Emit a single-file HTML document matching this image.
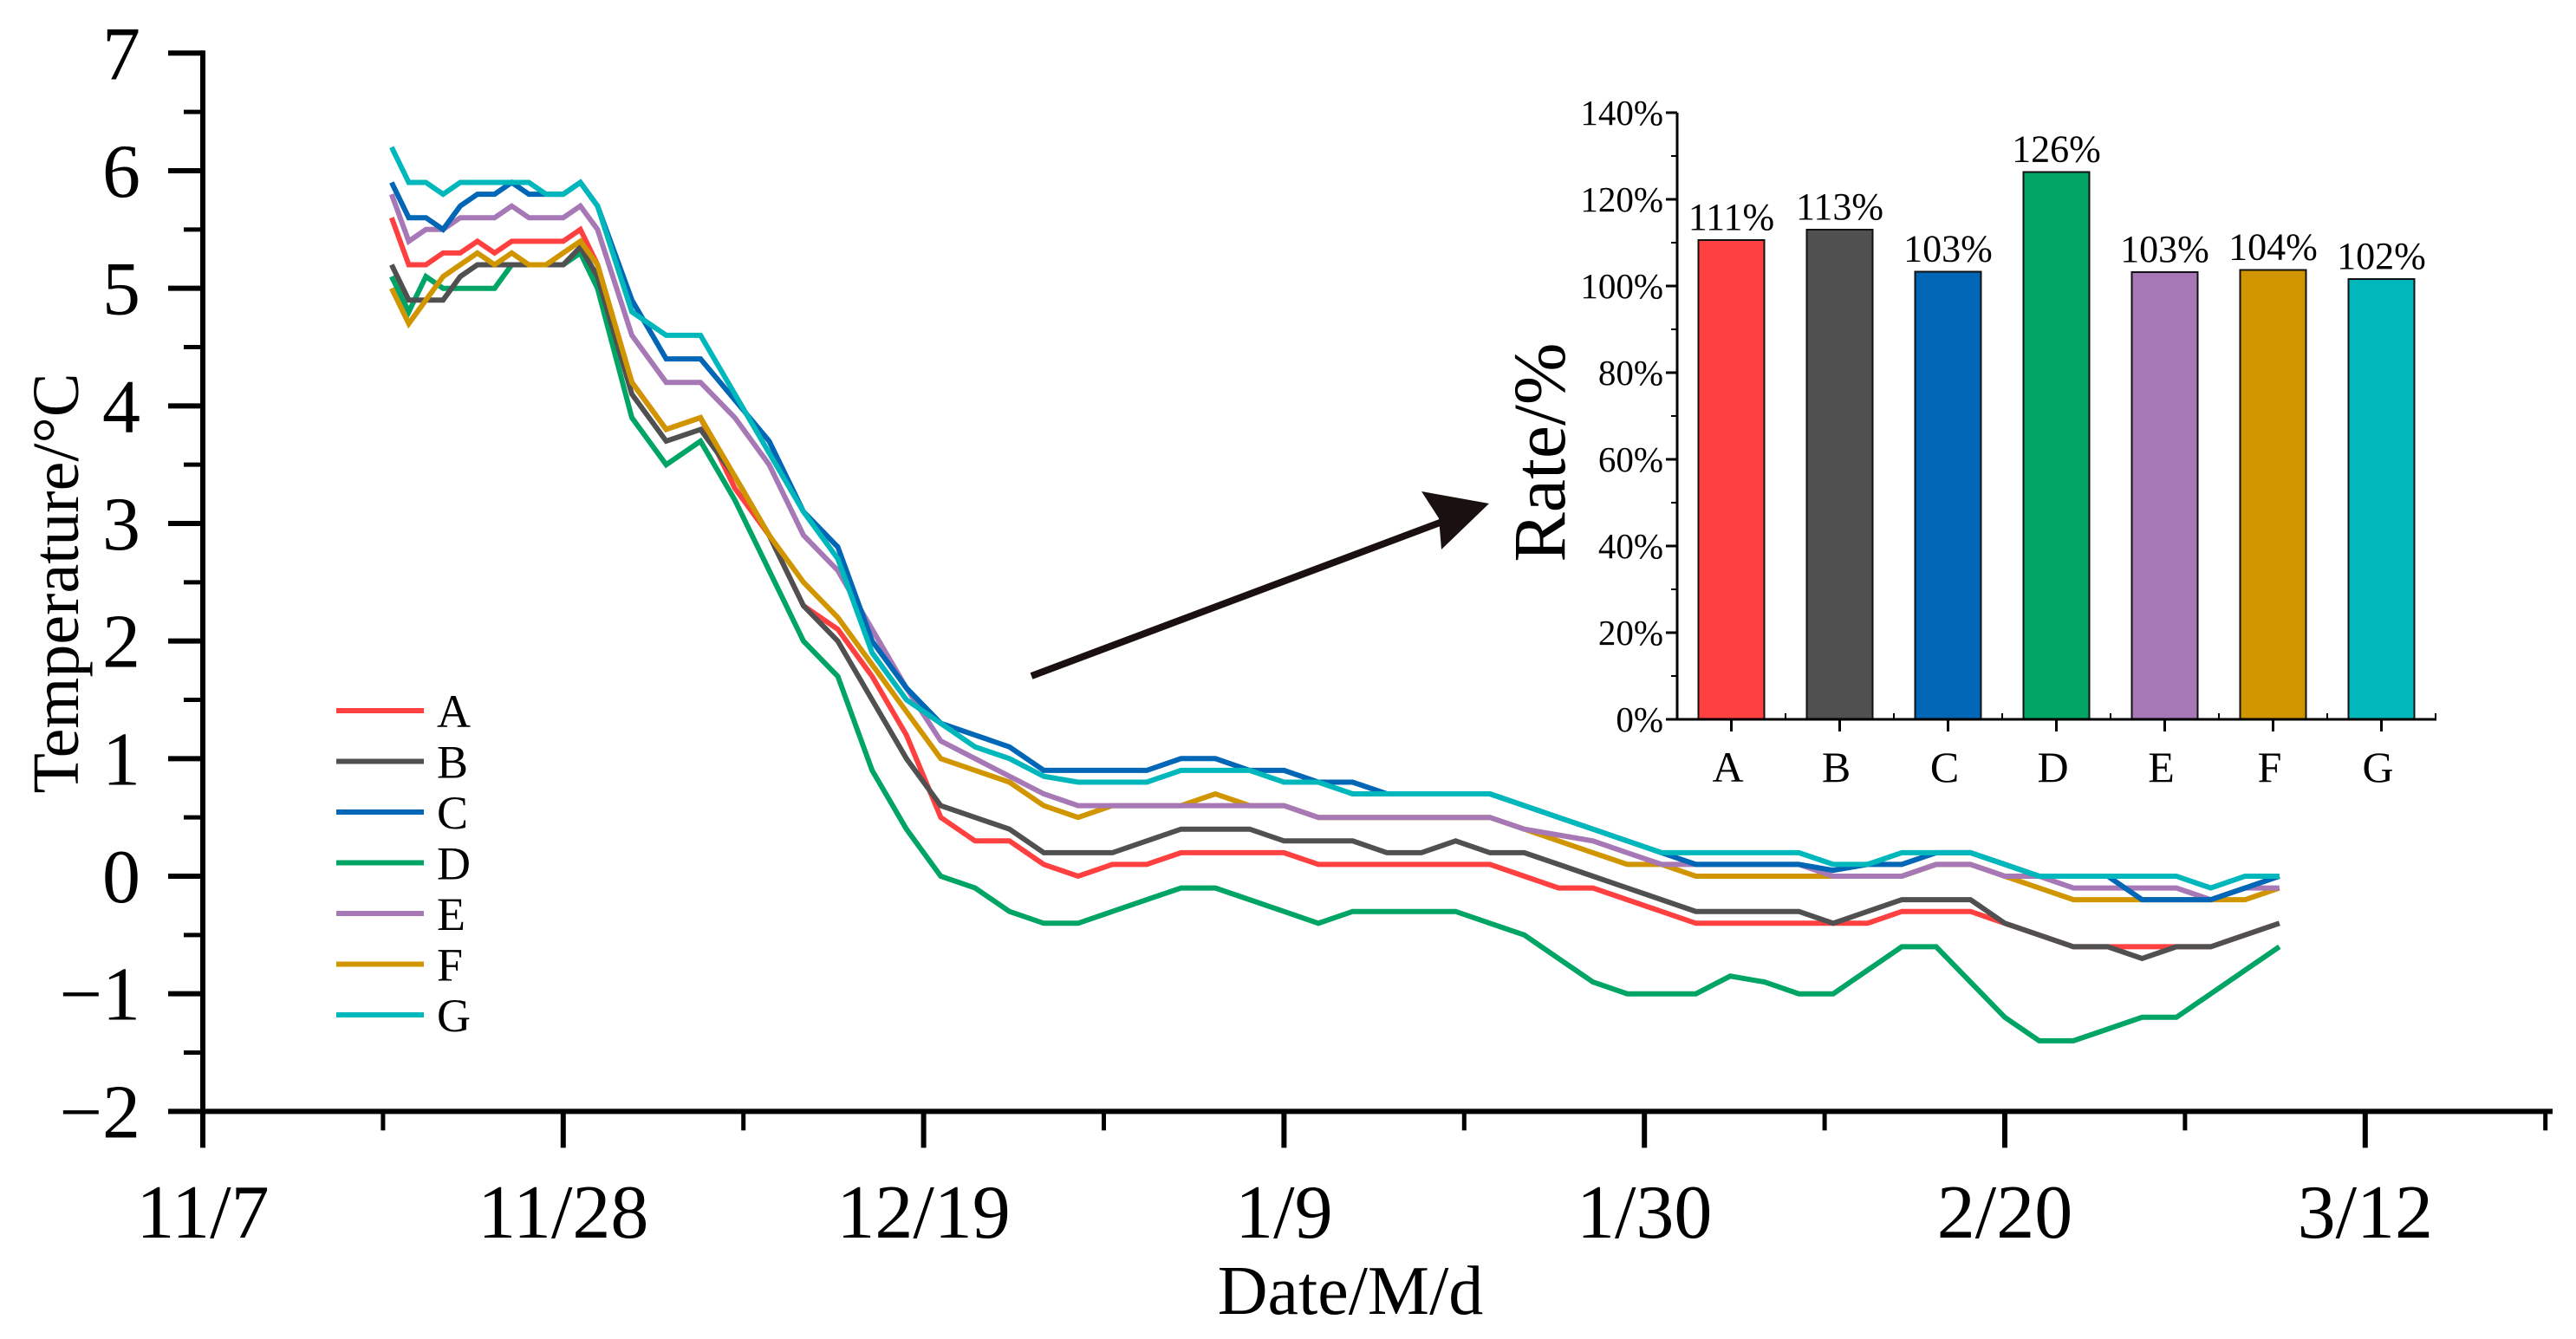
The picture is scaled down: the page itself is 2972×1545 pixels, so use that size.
<!DOCTYPE html>
<html><head><meta charset="utf-8"><style>
html,body{margin:0;padding:0;background:#fff;}
svg{display:block;font-family:"Liberation Serif",serif;}
</style></head><body>
<svg id="chart" width="2972" height="1545" viewBox="0 0 2972 1545" xmlns="http://www.w3.org/2000/svg"></svg>
<script>
const days=[11,12,13,14,15,16,17,18,19,20,21,22,23,25,27,29,31,33,35,37,39,41,43,45,47,49,51,53,55,57,59,61,63,65,67,69,71,73,75,77,79,81,83,85,87,89,91,93,95,97,99,101,103,105,107,109,111,113,115,117,119,121];
const seriesNames=["A","B","C","D","E","F","G"];
const seriesColors=["#FF4040","#505050","#0066B5","#00A465","#A678B6","#D19500","#00B7BB"];
const valsA=[5.6,5.2,5.2,5.3,5.3,5.4,5.3,5.4,5.4,5.4,5.4,5.5,5.2,4.2,3.8,3.9,3.3,2.9,2.3,2.1,1.7,1.2,0.5,0.3,0.3,0.1,0.0,0.1,0.1,0.2,0.2,0.2,0.2,0.1,0.1,0.1,0.1,0.1,0.1,0.0,-0.1,-0.1,-0.2,-0.3,-0.4,-0.4,-0.4,-0.4,-0.4,-0.4,-0.3,-0.3,-0.3,-0.4,-0.5,-0.6,-0.6,-0.6,-0.6,-0.6,-0.5,-0.4];
const valsB=[5.2,4.9,4.9,4.9,5.1,5.2,5.2,5.2,5.2,5.2,5.2,5.35,5.1,4.1,3.7,3.8,3.4,2.9,2.3,2.0,1.5,1.0,0.6,0.5,0.4,0.2,0.2,0.2,0.3,0.4,0.4,0.4,0.3,0.3,0.3,0.2,0.2,0.3,0.2,0.2,0.1,0.0,-0.1,-0.2,-0.3,-0.3,-0.3,-0.3,-0.4,-0.3,-0.2,-0.2,-0.2,-0.4,-0.5,-0.6,-0.6,-0.7,-0.6,-0.6,-0.5,-0.4];
const valsC=[5.9,5.6,5.6,5.5,5.7,5.8,5.8,5.9,5.8,5.8,5.8,5.9,5.7,4.9,4.4,4.4,4.05,3.7,3.1,2.8,2.0,1.6,1.3,1.2,1.1,0.9,0.9,0.9,0.9,1.0,1.0,0.9,0.9,0.8,0.8,0.7,0.7,0.7,0.7,0.6,0.5,0.4,0.3,0.2,0.1,0.1,0.1,0.1,0.05,0.1,0.1,0.2,0.2,0.1,0.0,0.0,0.0,-0.2,-0.2,-0.2,-0.1,0.0];
const valsD=[5.1,4.8,5.1,5.0,5.0,5.0,5.0,5.2,5.2,5.2,5.2,5.3,5.0,3.9,3.5,3.7,3.2,2.6,2.0,1.7,0.9,0.4,0.0,-0.1,-0.3,-0.4,-0.4,-0.3,-0.2,-0.1,-0.1,-0.2,-0.3,-0.4,-0.3,-0.3,-0.3,-0.3,-0.4,-0.5,-0.7,-0.9,-1.0,-1.0,-1.0,-0.85,-0.9,-1.0,-1.0,-0.8,-0.6,-0.6,-0.9,-1.2,-1.4,-1.4,-1.3,-1.2,-1.2,-1.0,-0.8,-0.6];
const valsE=[5.8,5.4,5.5,5.5,5.6,5.6,5.6,5.7,5.6,5.6,5.6,5.7,5.5,4.6,4.2,4.2,3.9,3.5,2.9,2.6,2.1,1.6,1.15,1.0,0.85,0.7,0.6,0.6,0.6,0.6,0.6,0.6,0.6,0.5,0.5,0.5,0.5,0.5,0.5,0.4,0.35,0.3,0.2,0.1,0.1,0.1,0.1,0.1,0.0,0.0,0.0,0.1,0.1,0.0,0.0,-0.1,-0.1,-0.1,-0.1,-0.2,-0.1,-0.1];
const valsF=[5.0,4.7,4.9,5.1,5.2,5.3,5.2,5.3,5.2,5.2,5.3,5.4,5.2,4.2,3.8,3.9,3.4,2.9,2.5,2.2,1.8,1.4,1.0,0.9,0.8,0.6,0.5,0.6,0.6,0.6,0.7,0.6,0.6,0.5,0.5,0.5,0.5,0.5,0.5,0.4,0.3,0.2,0.1,0.1,0.0,0.0,0.0,0.0,0.0,0.0,0.0,0.1,0.1,0.0,-0.1,-0.2,-0.2,-0.2,-0.2,-0.2,-0.2,-0.1];
const valsG=[6.2,5.9,5.9,5.8,5.9,5.9,5.9,5.9,5.9,5.8,5.8,5.9,5.7,4.8,4.6,4.6,4.1,3.6,3.1,2.7,1.9,1.5,1.3,1.1,1.0,0.85,0.8,0.8,0.8,0.9,0.9,0.9,0.8,0.8,0.7,0.7,0.7,0.7,0.7,0.6,0.5,0.4,0.3,0.2,0.2,0.2,0.2,0.2,0.1,0.1,0.2,0.2,0.2,0.1,0.0,0.0,0.0,0.0,0.0,-0.1,0.0,0.0];
const xTickDays=[0,21,42,63,84,105,126];
const xTickLabels=["11/7","11/28","12/19","1/9","1/30","2/20","3/12"];
const yTicks=[7,6,5,4,3,2,1,0,-1,-2];
const yTickLabels=["7","6","5","4","3","2","1","0","\u22121","\u22122"];
const rateCats=["A","B","C","D","E","F","G"];
const rateVals=[110.6,113,103.3,126.3,103.2,103.7,101.6];
const rateLabels=["111%","113%","103%","126%","103%","104%","102%"];
const rateTicks=[0,20,40,60,80,100,120,140];

const svg=document.getElementById('chart');
const NS="http://www.w3.org/2000/svg";
function mk(tag,attrs,parent){const e=document.createElementNS(NS,tag);for(const k in attrs)e.setAttribute(k,attrs[k]);(parent||svg).appendChild(e);return e;}
const X0=234, PXD=19.8, Y0=1011, PXU=135.67;
function xs(d){return X0+d*PXD;}
function ys(v){return Y0-v*PXU;}
const XEND=2945;

let g=mk('g',{});


let e=mk('line',{x1:X0,y1:ys(7)-3,x2:X0,y2:ys(-2)+3,stroke:'#000','stroke-width':6},g);

e=mk('line',{x1:X0-3,y1:ys(-2),x2:XEND,y2:ys(-2),stroke:'#000','stroke-width':6},g);

for(let i=0;i<yTicks.length;i++){
  const y=ys(yTicks[i]);
  e=mk('line',{x1:X0-40,y1:y,x2:X0,y2:y,stroke:'#000','stroke-width':6},g);
  
  if(i<yTicks.length-1){const ym=ys(yTicks[i]-0.5);
    e=mk('line',{x1:X0-22,y1:ym,x2:X0,y2:ym,stroke:'#000','stroke-width':5},g);
    }
  e=mk('text',{x:X0-72,y:y+30,'text-anchor':'end','font-size':88},g);
  e.textContent=yTickLabels[i];
  
}
for(let i=0;i<xTickDays.length;i++){
  const x=xs(xTickDays[i]);
  e=mk('line',{x1:x,y1:ys(-2),x2:x,y2:ys(-2)+42,stroke:'#000','stroke-width':6},g);
  
  const xm=xs(xTickDays[i]+10.5);
  if(xm<XEND){e=mk('line',{x1:xm,y1:ys(-2),x2:xm,y2:ys(-2)+22,stroke:'#000','stroke-width':5},g);
  }
  e=mk('text',{x:x,y:1428,'text-anchor':'middle','font-size':88},g);
  e.textContent=xTickLabels[i];
  
}
e=mk('text',{x:1558,y:1516,'text-anchor':'middle','font-size':80});
e.textContent='Date/M/d';

e=mk('text',{x:0,y:0,'text-anchor':'middle','font-size':76,transform:'translate(90,673) rotate(-90)'});
e.textContent='Temperature/\u00B0C';


const allVals=[valsA,valsB,valsC,valsD,valsE,valsF,valsG];
const order=[3,0,1,5,4,2,6];
for(const i of order){
  const pts=days.map((d,k)=>xs(d).toFixed(1)+','+ys(allVals[i][k]).toFixed(1)).join(' ');
  const p=mk('polyline',{points:pts,fill:'none',stroke:seriesColors[i],'stroke-width':6,'stroke-linejoin':'miter'});
  
  
}

const lg=mk('g',{});


for(let i=0;i<seriesNames.length;i++){
  const y=820+i*58.5;
  e=mk('line',{x1:388,y1:y,x2:489,y2:y,stroke:seriesColors[i],'stroke-width':6},lg);
  
  e=mk('text',{x:504,y:y+19,'font-size':54},lg);
  e.textContent=seriesNames[i];
  
}

e=mk('line',{x1:1190,y1:780,x2:1680,y2:596,stroke:'#1a1010','stroke-width':8});

e=mk('polygon',{points:'1718,581 1640,567 1660,598 1663,634',fill:'#1a1010'});


const IX0=1935, IX1=2811, IY0=830, IPX=5.0, CW=125;
function iy(v){return IY0-v*IPX;}
const ig=mk('g',{});


for(let i=0;i<rateCats.length;i++){
  const cx=IX0+CW*(i+0.5);
  e=mk('rect',{x:cx-38,y:iy(rateVals[i]),width:76,height:rateVals[i]*IPX,fill:seriesColors[i],stroke:'#111','stroke-width':2},ig);
  
  e=mk('text',{x:cx,y:iy(rateVals[i])-12,'text-anchor':'middle','font-size':44},ig);
  e.textContent=rateLabels[i];
  
  e=mk('line',{x1:cx,y1:IY0,x2:cx,y2:IY0+14,stroke:'#000','stroke-width':3},ig);
  
  e=mk('line',{x1:IX0+CW*(i+1),y1:IY0,x2:IX0+CW*(i+1),y2:IY0-7,stroke:'#000','stroke-width':2},ig);
  
  e=mk('text',{x:cx-4,y:IY0+72,'text-anchor':'middle','font-size':50},ig);
  e.textContent=rateCats[i];
  
}
e=mk('line',{x1:IX0,y1:iy(140),x2:IX0,y2:IY0+1,stroke:'#000','stroke-width':3},ig);

e=mk('line',{x1:IX0,y1:IY0,x2:IX1,y2:IY0,stroke:'#000','stroke-width':3},ig);

for(let i=0;i<rateTicks.length;i++){
  const y=iy(rateTicks[i]);
  e=mk('line',{x1:IX0-13,y1:y,x2:IX0,y2:y,stroke:'#000','stroke-width':3},ig);
  
  if(i<rateTicks.length-1){const ym=iy(rateTicks[i]+10);
    e=mk('line',{x1:IX0-7,y1:ym,x2:IX0,y2:ym,stroke:'#000','stroke-width':2},ig);
    }
  e=mk('text',{x:IX0-16,y:y+14,'text-anchor':'end','font-size':41},ig);
  e.textContent=rateTicks[i]+'%';
  
}
e=mk('text',{x:0,y:0,'text-anchor':'middle','font-size':86,transform:'translate(1805,522) rotate(-90)'},ig);
e.textContent='Rate/%';

</script>
</body></html>
